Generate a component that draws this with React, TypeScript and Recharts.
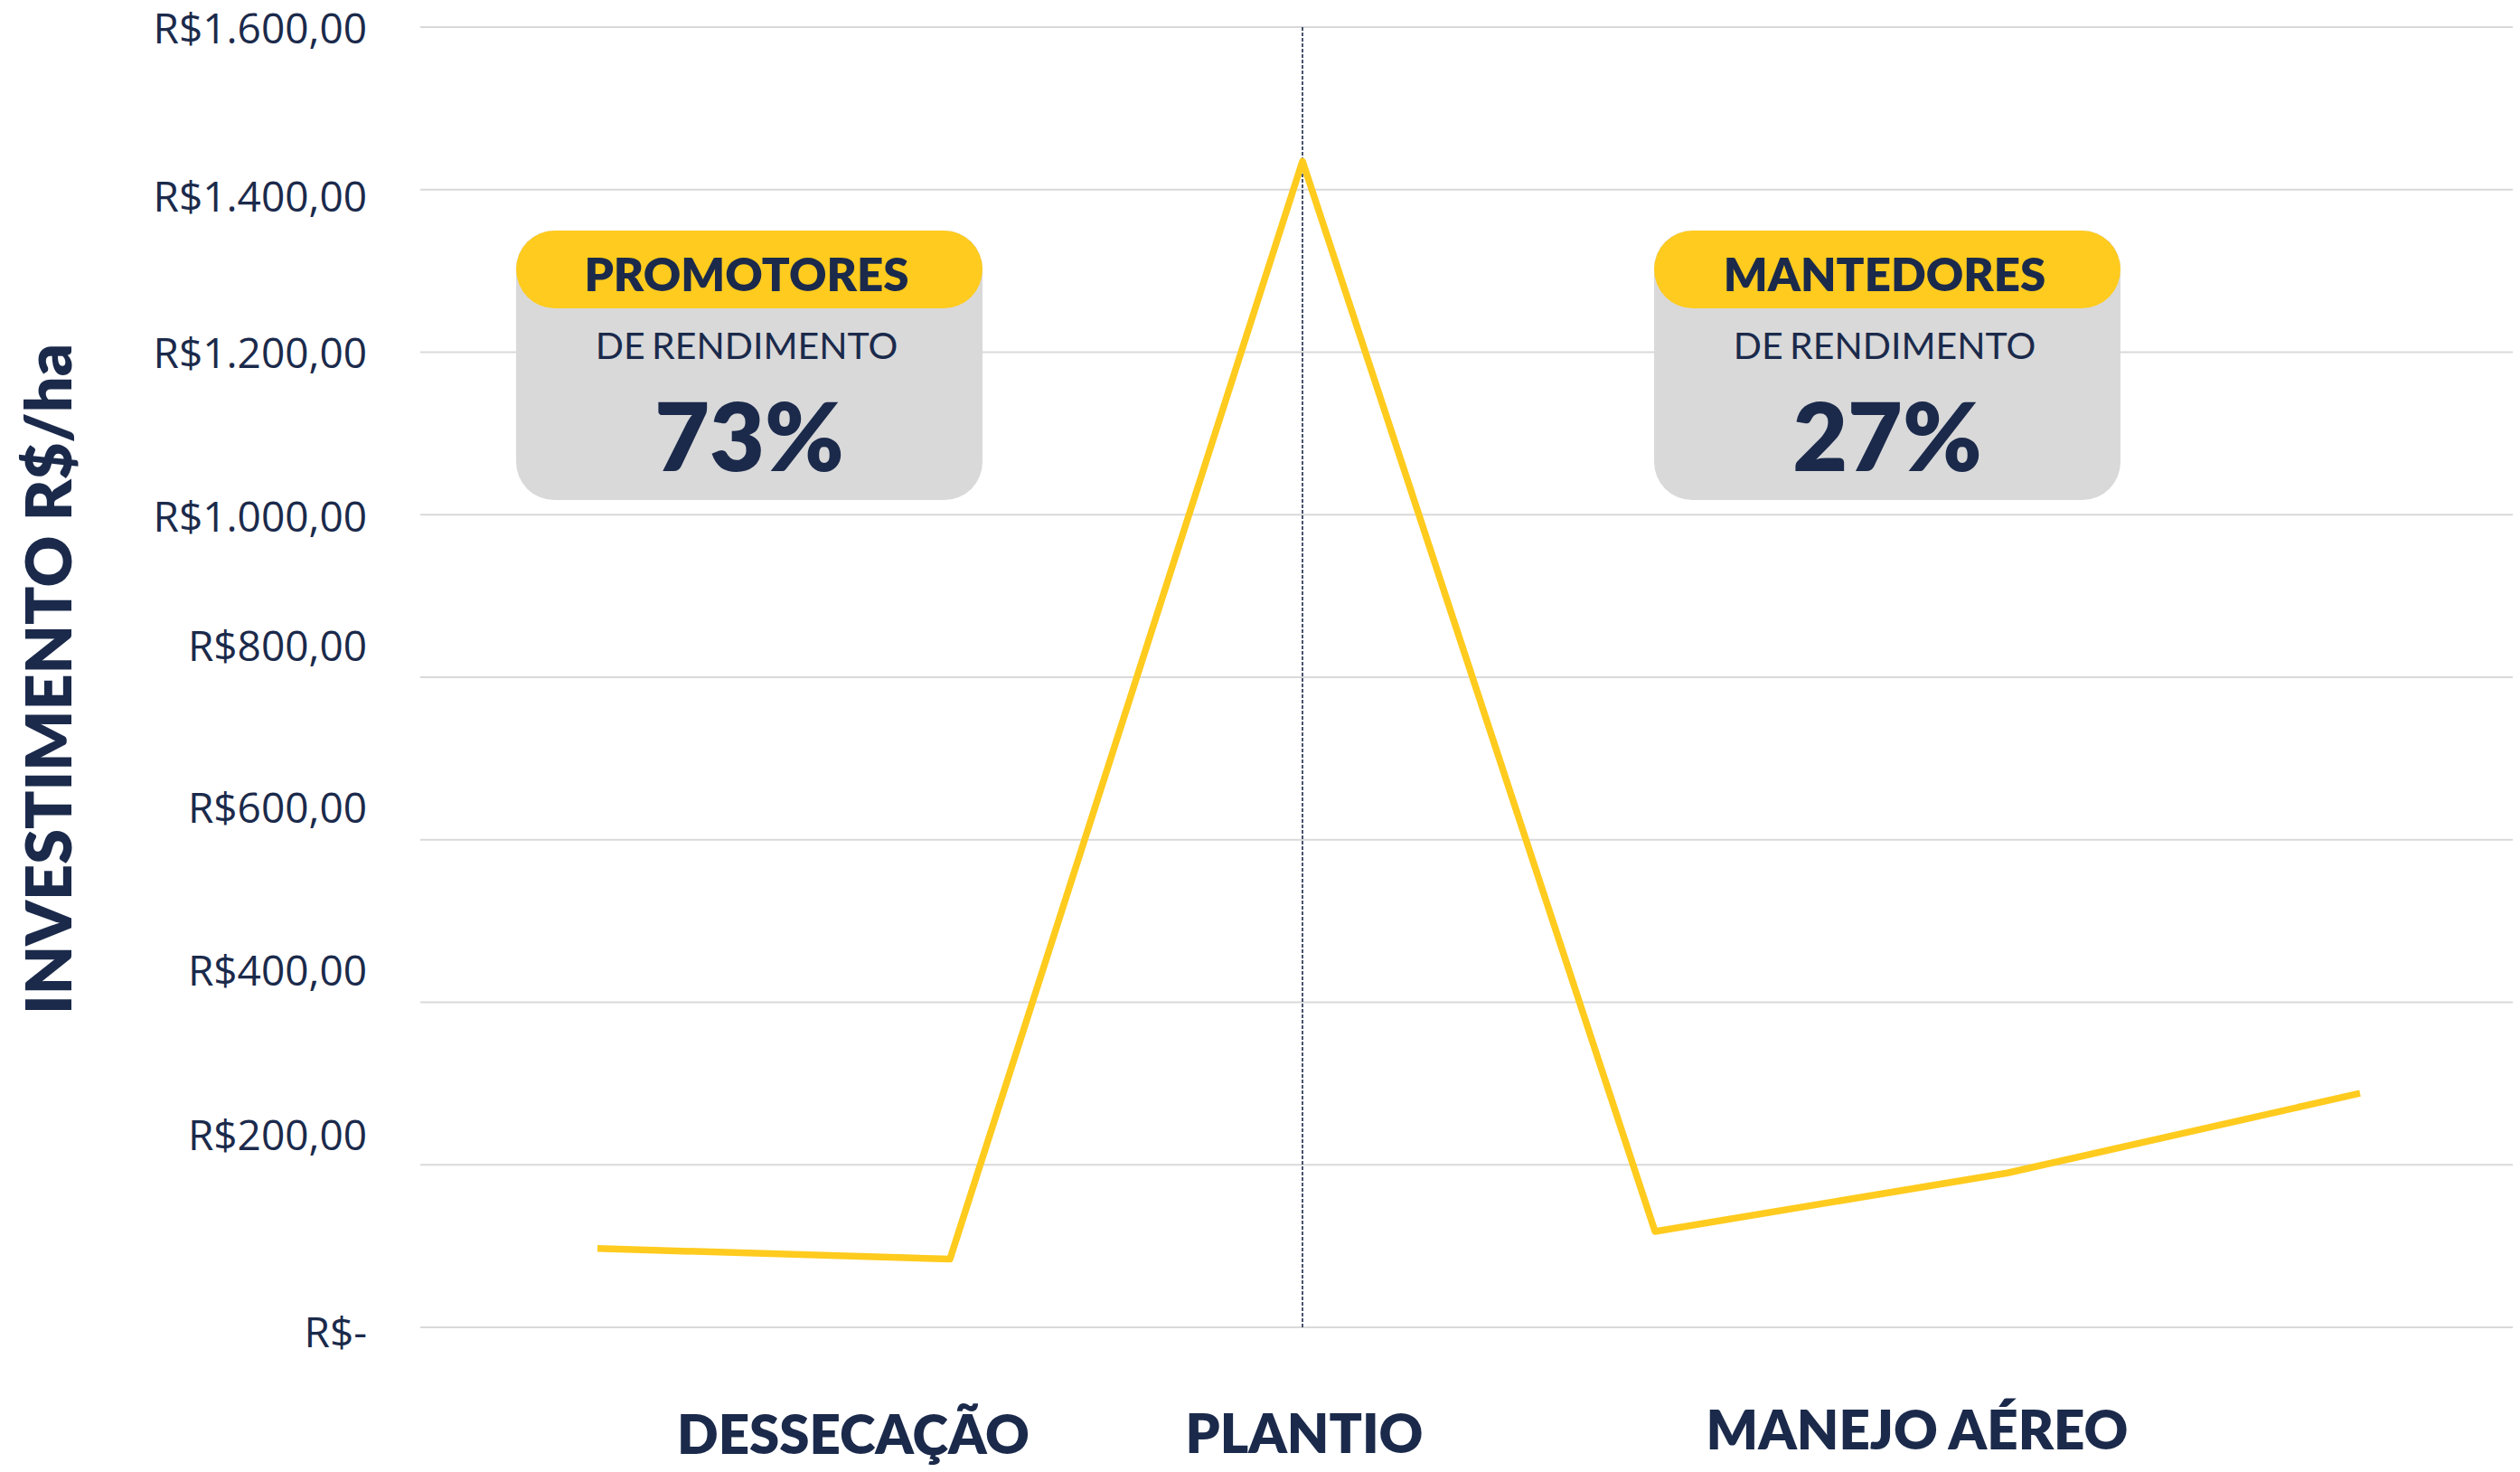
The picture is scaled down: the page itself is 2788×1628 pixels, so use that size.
import React from "react";
import {
  LineChart,
  Line,
  XAxis,
  YAxis,
  CartesianGrid,
  ReferenceLine,
  Customized,
} from "recharts";

// ---- data ----
const categories = [
  "Dessecação 1",
  "Dessecação 2",
  "Plantio",
  "Manejo aéreo 1",
  "Manejo aéreo 2",
  "Manejo aéreo 3",
];
const investimento = [97, 84, 1435, 118, 190, 288];
const yTicks = [0, 200, 400, 600, 800, 1000, 1200, 1400, 1600];
const xTickLabels = ["", "DESSECAÇÃO", "PLANTIO", "", "MANEJO AÉREO", ""];
const yAxisTitle = "INVESTIMENTO R$/ha";
const boxTitles = ["PROMOTORES", "MANTEDORES"];
const boxSubtitle = "DE RENDIMENTO";
const boxValues = ["73%", "27%"];

// ---- styling / layout (not data) ----
const NAVY = "#1B2A4B";
const YELLOW = "#FFCB1E";
const GRAY = "#D9D9D9";
const xLabelDx = [0, -107, 2, 0, -100, 0];
const xLabelDy = [0, 140, 139, 0, 135, 0];
const yLabelNudge: Record<number, number> = {
  0: 6, 200: -33, 400: -35, 600: -35, 800: -34, 1000: 2, 1200: 1, 1400: 8, 1600: 2,
};
const boxLeft = [563, 1822];

const chartData = categories.map((c, i) => ({ stage: c, value: investimento[i] }));

function formatBRL(v: number): string {
  if (v === 0) return "R$-";
  const int = Math.floor(v).toString().replace(/\B(?=(\d{3})+(?!\d))/g, ".");
  return "R$" + int + ",00";
}

const YTick = (props: any) => {
  const { x, y, payload } = props;
  const nudge = yLabelNudge[payload.value] ?? 0;
  return (
    <text
      x={x}
      y={y + nudge}
      dy="0.355em"
      textAnchor="end"
      fill={NAVY}
      fontFamily="'Open Sans', sans-serif"
      fontSize={46}
    >
      {formatBRL(payload.value)}
    </text>
  );
};

const XTick = (props: any) => {
  const { x, y, payload } = props;
  const i = categories.indexOf(payload.value);
  const label = xTickLabels[i];
  if (!label) return null;
  return (
    <text
      x={x + xLabelDx[i]}
      y={y + xLabelDy[i]}
      textAnchor="middle"
      fill={NAVY}
      fontFamily="Lato, sans-serif"
      fontWeight={800}
      fontSize={60}
    >
      {label}
    </text>
  );
};

const Decorations = () => {
  const w = 516;
  const top = 255;
  const h = 298;
  const headerH = 86;
  return (
    <g>
      <text
        transform="rotate(-90)"
        x={-751}
        y={71}
        textAnchor="middle"
        fill={NAVY}
        fontFamily="Lato, sans-serif"
        fontWeight={800}
        fontSize={70}
      >
        {yAxisTitle}
      </text>
      {boxTitles.map((t, i) => {
        const left = boxLeft[i];
        const cx = left + w / 2;
        return (
          <g key={t}>
            <rect x={left} y={top} width={w} height={h} rx={42} ry={42} fill={GRAY} />
            <rect x={left} y={top} width={w} height={headerH} rx={43} ry={43} fill={YELLOW} />
            <text
              x={cx - 3}
              y={top + 67}
              textAnchor="middle"
              fill={NAVY}
              fontFamily="Lato, sans-serif"
              fontWeight={800}
              fontSize={51}
            >
              {t}
            </text>
            <text
              x={cx - 3}
              y={top + 142}
              textAnchor="middle"
              fill={NAVY}
              fontFamily="Lato, sans-serif"
              fontWeight={400}
              fontSize={41}
              wordSpacing={-3}
            >
              {boxSubtitle}
            </text>
            <text
              x={cx}
              y={top + 266}
              textAnchor="middle"
              fill={NAVY}
              fontFamily="Lato, sans-serif"
              fontWeight={800}
              fontSize={105}
            >
              {boxValues[i]}
            </text>
          </g>
        );
      })}
    </g>
  );
};

export default function App() {
  return (
    <div
      style={{
        width: 2780,
        height: 1620,
        marginTop: -8,
        background: "#fff",
        overflow: "hidden",
      }}
    >
      <style>{"html,body{overflow:hidden;}"}</style>
      <LineChart
        width={2800}
        height={1628}
        data={chartData}
        margin={{ top: 30, right: 0, bottom: 0, left: 0 }}
      >
        <CartesianGrid vertical={false} stroke={GRAY} strokeWidth={2} />
        <XAxis
          dataKey="stage"
          type="category"
          interval={0}
          height={160}
          padding={{ left: 196, right: 197 }}
          axisLine={false}
          tickLine={false}
          tickSize={0}
          tickMargin={0}
          tick={<XTick />}
        />
        <YAxis
          width={457}
          domain={[0, 1600]}
          ticks={yTicks}
          interval={0}
          axisLine={false}
          tickLine={false}
          tickSize={0}
          tickMargin={59}
          tick={<YTick />}
        />
        <Customized component={<Decorations />} />
        <ReferenceLine
          x="Plantio"
          stroke={NAVY}
          strokeWidth={1.6}
          strokeDasharray="4 2"
        />
        <Line
          type="linear"
          dataKey="value"
          stroke={YELLOW}
          strokeWidth={7.5}
          strokeLinejoin="round"
          dot={false}
          activeDot={false}
          isAnimationActive={false}
        />
      </LineChart>
    </div>
  );
}
